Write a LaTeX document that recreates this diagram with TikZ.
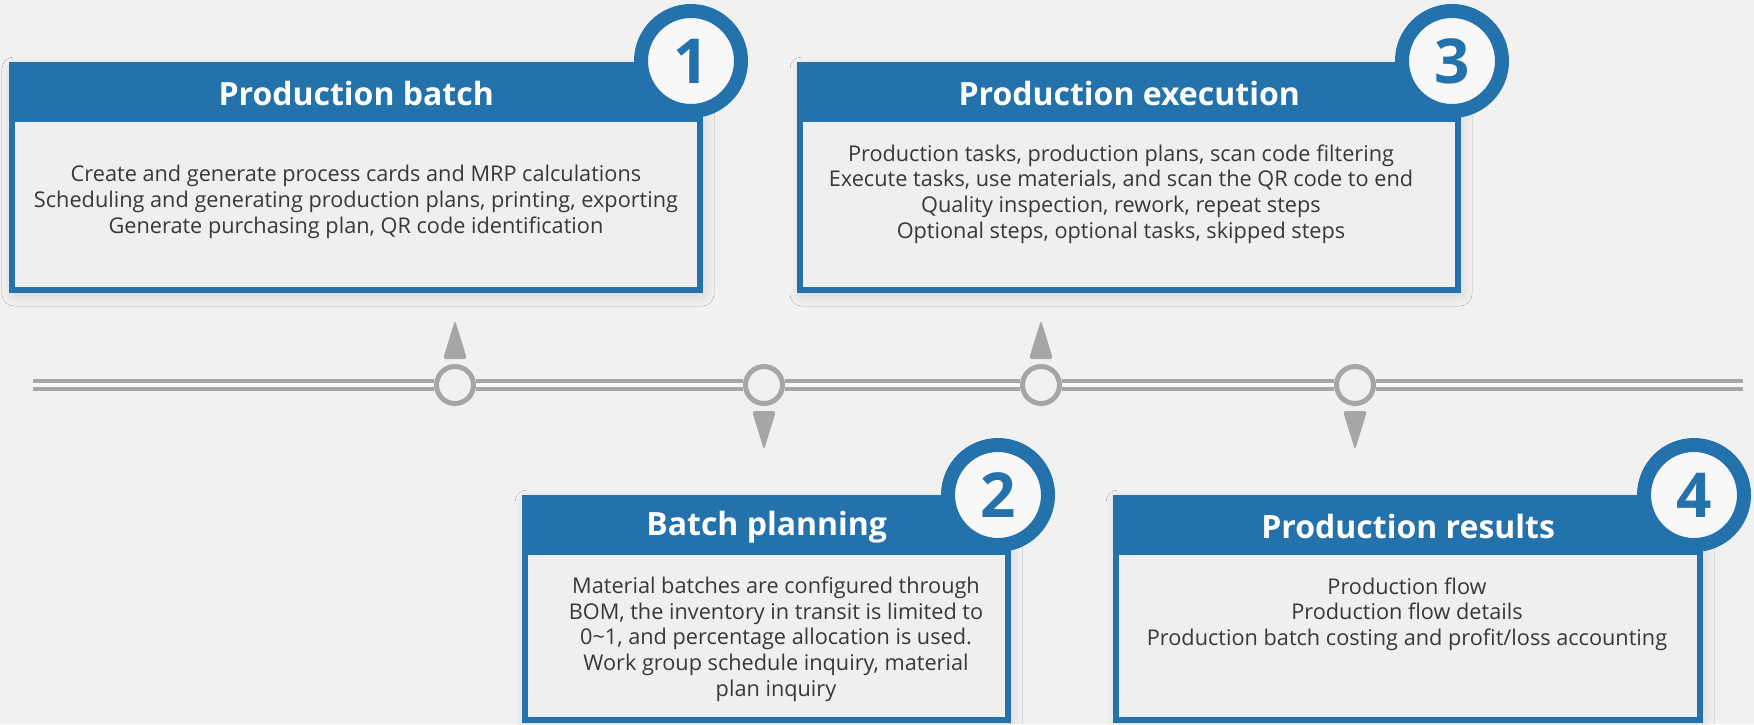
\documentclass[tikz,border=0pt]{standalone}
\usepackage{fontspec}
\setmainfont{Open Sans}
\usetikzlibrary{shadows.blur,calc}
\definecolor{bgcol}{HTML}{F1F1F1}
\definecolor{cardblue}{HTML}{2372AB}
\definecolor{cardfill}{HTML}{EFEFEF}
\definecolor{railgray}{HTML}{A6A6A6}
\definecolor{bodytext}{HTML}{383838}

\begin{document}
\begin{tikzpicture}
  [x=1pt,y=-1pt,
   card/.style={rectangle,draw=cardblue,line width=6pt,fill=cardfill,inner sep=0pt,outer sep=0pt,
     blur shadow={shadow xshift=2pt,shadow yshift=-4pt,shadow blur radius=12pt,shadow opacity=15}},
   cardhead/.style={rectangle,fill=cardblue,text=white,inner sep=0pt,anchor=north west,
     minimum height=57pt,font=\bfseries\fontsize{32}{32}\selectfont},
   badge/.style={circle,draw=cardblue,line width=14pt,fill=white!50!bgcol,text=cardblue,
     minimum size=100pt,inner sep=0pt,font=\bfseries\fontsize{62}{62}\selectfont},
   cardbody/.style={text=bodytext,align=center,font=\fontsize{21.7}{25.7}\selectfont},
   milestone/.style={circle,draw=railgray,line width=5pt,fill=bgcol,minimum size=37pt,inner sep=0pt},
   rail/.style={draw=railgray,line width=4pt,double=white!50!bgcol,double distance=4pt},
   pinmark/.style={fill=railgray,rounded corners=3pt}]
  \useasboundingbox (0,0) rectangle (1754,724);
  \fill[bgcol] (0,0) rectangle (1754,724);

  % timeline
  \coordinate (railstart) at (33,385);
  \coordinate (railend) at (1743,385);
  \node[milestone] (m1) at (455,385) {};
  \node[milestone] (m2) at (764,385) {};
  \node[milestone] (m3) at (1041,385) {};
  \node[milestone] (m4) at (1355,385) {};
  \draw[rail] (railstart) -- (m1) -- (m2) -- (m3) -- (m4) -- (railend);

  \foreach \m/\s in {m1/-1,m2/1,m3/-1,m4/1}
    \fill[pinmark] ($(\m)+(-12,26*\s)$) -- ($(\m)+(0,65*\s)$) -- ($(\m)+(12,26*\s)$) -- cycle;

  % cards
  \node[card,minimum width=688pt,minimum height=225pt] (c1) at (356,177.5) {};
  \node[cardhead,minimum width=688pt] (h1) at (c1.north west) {Production batch};
  \node[badge] (b1) at (691,61) {1};
  \node[cardbody] (t1) at (356,202) {Create and generate process cards and MRP calculations\\
    Scheduling and generating production plans, printing, exporting\\
    Generate purchasing plan, QR code identification};

  \node[card,minimum width=658pt,minimum height=225pt] (c3) at (1129,177.5) {};
  \node[cardhead,minimum width=658pt] (h3) at (c3.north west) {Production execution};
  \node[badge] (b3) at (1452,61) {3};
  \node[cardbody] (t3) at (1121,194) {Production tasks, production plans, scan code filtering\\
    Execute tasks, use materials, and scan the QR code to end\\
    Quality inspection, rework, repeat steps\\
    Optional steps, optional tasks, skipped steps};

  \node[card,minimum width=483pt,minimum height=222pt] (c2) at (766.5,609) {};
  \node[cardhead,minimum width=483pt] (h2) at (c2.north west) {Batch planning};
  \node[badge] (b2) at (998,495) {2};
  \node[cardbody] (t2) at (776,639) {Material batches are configured through\\
    BOM, the inventory in transit is limited to\\
    0\char`\~1, and percentage allocation is used.\\
    Work group schedule inquiry, material\\
    plan inquiry};

  \node[card,minimum width=584pt,minimum height=222pt] (c4) at (1408,609) {};
  \node[cardhead,minimum width=584pt] (h4) at (c4.north west) {Production results};
  \node[badge] (b4) at (1694,495) {4};
  \node[cardbody] (t4) at (1407,614) {Production flow\\
    Production flow details\\
    Production batch costing and profit/loss accounting};
\end{tikzpicture}
\end{document}
